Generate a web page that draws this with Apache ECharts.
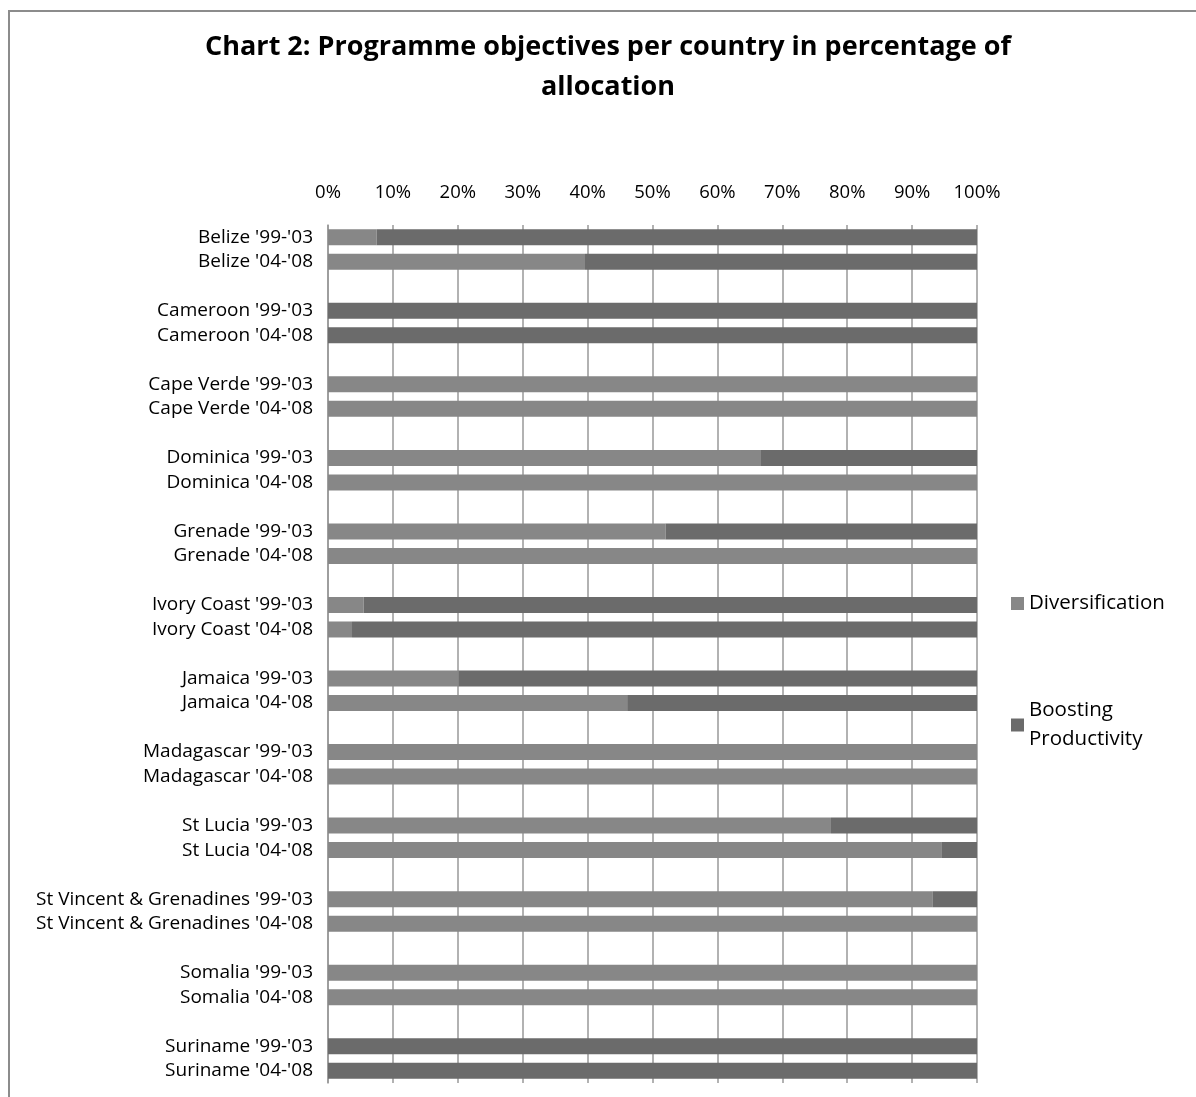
<!DOCTYPE html>
<html>
<head>
<meta charset="utf-8">
<script src="https://cdn.jsdelivr.net/npm/echarts@6/dist/echarts.min.js"></script>
<style>
html,body{margin:0;padding:0;background:#fff;}
#frame{position:absolute;left:8px;top:10px;width:1300px;height:1200px;border-left:2px solid #8c8c8c;border-top:2px solid #8c8c8c;}
#chart{position:absolute;left:0;top:0;width:1196px;height:1097px;}
</style>
</head>
<body>
<div id="frame"></div>
<div id="chart"></div>
<script>
// Data
var countries = ["Belize", "Cameroon", "Cape Verde", "Dominica", "Grenade", "Ivory Coast", "Jamaica", "Madagascar", "St Lucia", "St Vincent & Grenadines", "Somalia", "Suriname"];
var periods = ["'99-'03", "'04-'08"];
// Diversification share (%) per country: [99-03, 04-08]
var diversification = [
  [7.5, 39.6],
  [0, 0],
  [100, 100],
  [66.6, 100],
  [52, 100],
  [5.5, 3.7],
  [20.1, 46.1],
  [100, 100],
  [77.5, 94.6],
  [93.2, 100],
  [100, 100],
  [0, 0]
];
var xTickLabels = ["0%", "10%", "20%", "30%", "40%", "50%", "60%", "70%", "80%", "90%", "100%"];

var categories = [], divData = [], boostData = [];
countries.forEach(function (c, i) {
  if (i > 0) { categories.push(" ".repeat(i)); divData.push(null); boostData.push(null); }
  periods.forEach(function (p, j) {
    categories.push(c + " " + p);
    var d = diversification[i][j];
    divData.push(d);
    boostData.push(+(100 - d).toFixed(2));
  });
});

var chart = echarts.init(document.getElementById('chart'));
var font = "'Open Sans', 'Noto Sans', sans-serif";
chart.setOption({
  backgroundColor: 'transparent',
  animation: false,
  title: {
    text: 'Chart 2: Programme objectives per country in percentage of\nallocation',
    left: 603, top: 22, textAlign: 'center',
    textStyle: { fontFamily: font, fontSize: 27, fontWeight: 'bold', color: '#000', lineHeight: 40 }
  },
  legend: {
    orient: 'vertical',
    left: 1006, top: 584,
    itemWidth: 13, itemHeight: 13, itemGap: 78,
    icon: 'rect',
    textStyle: { fontFamily: font, fontSize: 20.5, color: '#000', lineHeight: 29 },
    formatter: function (n) { return n === 'Boosting Productivity' ? 'Boosting\nProductivity' : n; },
    data: ['Diversification', 'Boosting Productivity']
  },
  grid: { left: 328, top: 225, width: 649, height: 858, containLabel: false },
  xAxis: {
    type: 'value', position: 'top', min: 0, max: 100, interval: 10,
    axisLine: { show: false }, axisTick: { show: false },
    axisLabel: { margin: 23, fontFamily: font, fontSize: 18.5, color: '#000',
      formatter: function (v) { return xTickLabels[Math.round(v / 10)]; } },
    splitLine: { show: true, lineStyle: { color: '#999', width: 1.5 } }
  },
  yAxis: {
    type: 'category', inverse: true, data: categories,
    axisLine: { show: true, lineStyle: { color: '#999', width: 1.5 } },
    axisTick: { show: false },
    axisLabel: { margin: 15, fontFamily: font, fontSize: 19, color: '#000', interval: 0 }
  },
  series: [
    { name: 'Diversification', type: 'bar', stack: 's', data: divData, barWidth: 16,
      itemStyle: { color: '#878787' } },
    { name: 'Boosting Productivity', type: 'bar', stack: 's', data: boostData, barWidth: 16,
      itemStyle: { color: '#6b6b6b' } }
  ]
});
</script>
</body>
</html>
